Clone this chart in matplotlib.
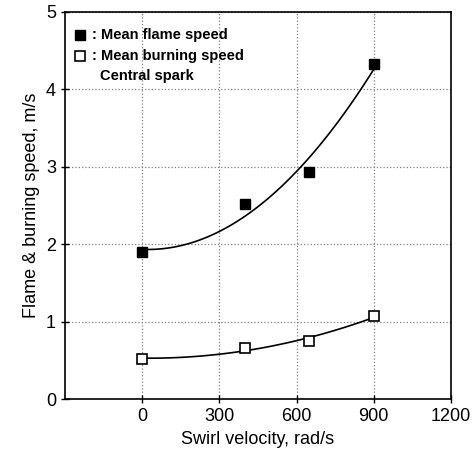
import numpy as np
import matplotlib.pyplot as plt

plt.rcParams['font.family'] = ['Liberation Sans', 'DejaVu Sans']

# data
swirl = [0, 400, 650, 900]
flame_speed = [1.9, 2.52, 2.93, 4.33]
burning_speed = [0.52, 0.66, 0.75, 1.07]
x_ticks = [0, 300, 600, 900, 1200]
y_ticks = [0, 1, 2, 3, 4, 5]

fig = plt.figure(figsize=(4.76, 4.57), dpi=100)
ax = fig.add_axes([65 / 476, 58 / 457, 386 / 476, 387 / 457])

# trend lines (quadratic fit through the points)
xs = np.linspace(0, 900, 100)
p1 = np.polyfit(swirl, flame_speed, 2)
p2 = np.polyfit(swirl, burning_speed, 2)
ax.plot(xs, np.polyval(p1, xs), color="black", lw=1.2)
ax.plot(xs, np.polyval(p2, xs), color="black", lw=1.2)

ax.plot(swirl, flame_speed, "s", color="black", ms=6.5)
ax.plot(swirl, burning_speed, "s", mfc="white", mec="black", mew=1.2, ms=6.5)

ax.set_xlim(-300, 1200)
ax.set_ylim(0, 5)
ax.set_xticks(x_ticks)
ax.set_yticks(y_ticks)
ax.tick_params(labelsize=13, direction="inout", length=6, width=1)
ax.grid(True, color="gray", ls=":", lw=0.9)
for s in ax.spines.values():
    s.set_linewidth(1.2)

ax.set_xlabel("Swirl velocity, rad/s", fontsize=13)
ax.set_ylabel("Flame & burning speed, m/s", fontsize=13)

# legend in upper left
ax.plot([-242], [4.7], "s", color="black", ms=6.5)
ax.plot([-242], [4.43], "s", mfc="white", mec="black", mew=1.2, ms=6.5)
ax.text(-195, 4.7, ": Mean flame speed", fontsize=10.5, fontweight="bold", va="center")
ax.text(-195, 4.43, ": Mean burning speed", fontsize=10.5, fontweight="bold", va="center")
ax.text(-163, 4.17, "Central spark", fontsize=10.5, fontweight="bold", va="center")

fig.savefig("out.png", dpi=100)
